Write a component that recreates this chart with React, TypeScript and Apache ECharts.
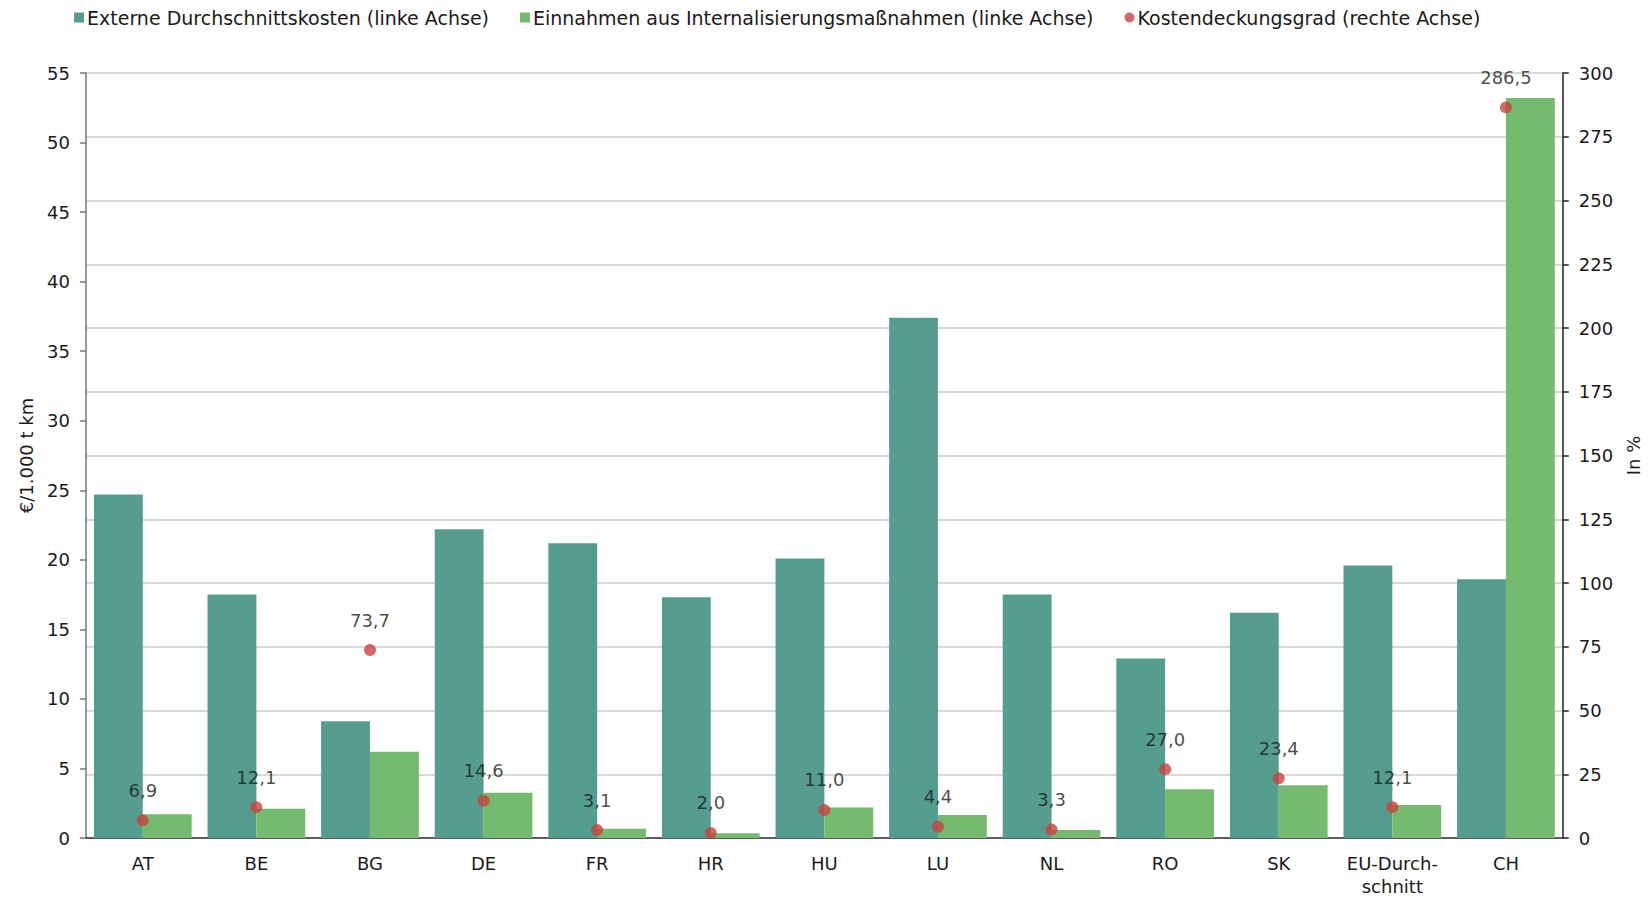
import React, { useEffect, useRef } from "react";
import * as echarts from "echarts";

const categories = ["AT", "BE", "BG", "DE", "FR", "HR", "HU", "LU", "NL", "RO", "SK", "EU-Durch-\nschnitt", "CH"];
const externalCosts = [24.7, 17.5, 8.4, 22.2, 21.2, 17.3, 20.1, 37.4, 17.5, 12.9, 16.2, 19.6, 18.6];
const revenues = [1.7, 2.1, 6.2, 3.25, 0.66, 0.35, 2.2, 1.65, 0.58, 3.5, 3.8, 2.37, 53.2];
const coverage = [6.9, 12.1, 73.7, 14.6, 3.1, 2.0, 11.0, 4.4, 3.3, 27.0, 23.4, 12.1, 286.5];

const seriesNames = [
  "Externe Durchschnittskosten (linke Achse)",
  "Einnahmen aus Internalisierungsmaßnahmen (linke Achse)",
  "Kostendeckungsgrad (rechte Achse)",
];

const FONT = "DejaVu Sans";
const TEXT = "#1a1a1a";

export default function App() {
  const ref = useRef<HTMLDivElement>(null);
  useEffect(() => {
    if (!ref.current) return;
    const chart = echarts.init(ref.current, undefined, { renderer: "svg" });
    chart.setOption({
      animation: false,
      textStyle: { fontFamily: FONT, color: TEXT },
      legend: {
        left: 69,
        top: 3,
        itemWidth: 10,
        itemHeight: 10,
        itemGap: 31,
        textStyle: { fontFamily: FONT, fontSize: 19, color: TEXT, padding: [0, 0, 0, -2] },
        data: [
          { name: seriesNames[0], icon: "rect" },
          { name: seriesNames[1], icon: "rect" },
          { name: seriesNames[2], icon: "circle" },
        ],
      },
      grid: { left: 86, right: 75, top: 73, bottom: 63, containLabel: false },
      xAxis: {
        type: "category",
        data: categories,
        axisTick: { show: false },
        axisLine: { show: true, lineStyle: { color: "#333333", width: 1.5 } },
        axisLabel: {
          fontFamily: FONT,
          fontSize: 18,
          color: TEXT,
          margin: 14,
          lineHeight: 23,
          interval: 0,
        },
      },
      yAxis: [
        {
          type: "value",
          min: 0,
          max: 55,
          interval: 5,
          name: "€/1.000 t km",
          nameLocation: "middle",
          nameRotate: 90,
          nameGap: 51,
          nameTextStyle: { fontFamily: FONT, fontSize: 18, color: TEXT },
          splitLine: { show: false },
          axisLine: { show: true, lineStyle: { color: "#777777", width: 1.5 } },
          axisTick: { show: true, length: 6, lineStyle: { color: "#777777", width: 1.5 } },
          axisLabel: { fontFamily: FONT, fontSize: 18, color: TEXT, margin: 16 },
        },
        {
          type: "value",
          min: 0,
          max: 300,
          interval: 25,
          position: "right",
          name: "In %",
          nameLocation: "middle",
          nameRotate: 90,
          nameGap: 49,
          nameTextStyle: { fontFamily: FONT, fontSize: 18, color: TEXT },
          splitLine: { show: true, lineStyle: { color: "#d9d9d9", width: 2 } },
          axisLine: { show: true, lineStyle: { color: "#222222", width: 1.5 } },
          axisTick: { show: true, length: 6, lineStyle: { color: "#222222", width: 1.5 } },
          axisLabel: { fontFamily: FONT, fontSize: 18, color: TEXT, margin: 16 },
        },
      ],
      series: [
        {
          name: seriesNames[0],
          type: "bar",
          yAxisIndex: 0,
          data: externalCosts,
          barWidth: "43%",
          barGap: "0%",
          itemStyle: { color: "#559d8e" },
        },
        {
          name: seriesNames[1],
          type: "bar",
          yAxisIndex: 0,
          data: revenues,
          barWidth: "43%",
          barGap: "0%",
          itemStyle: { color: "#74bb6f" },
        },
        {
          name: seriesNames[2],
          type: "scatter",
          yAxisIndex: 1,
          data: coverage,
          symbol: "circle",
          symbolSize: 12,
          z: 5,
          itemStyle: { color: "#c8423f" },
          label: {
            show: true,
            position: "top",
            distance: 15,
            fontFamily: FONT,
            fontSize: 18,
            color: TEXT,
            formatter: (p: any) => Number(p.value).toFixed(1).replace(".", ","),
          },
        },
      ],
    });
    return () => chart.dispose();
  }, []);
  return (
    <div
      ref={ref}
      style={{ position: "absolute", left: 0, top: 0, width: 1650, height: 901 }}
    />
  );
}
